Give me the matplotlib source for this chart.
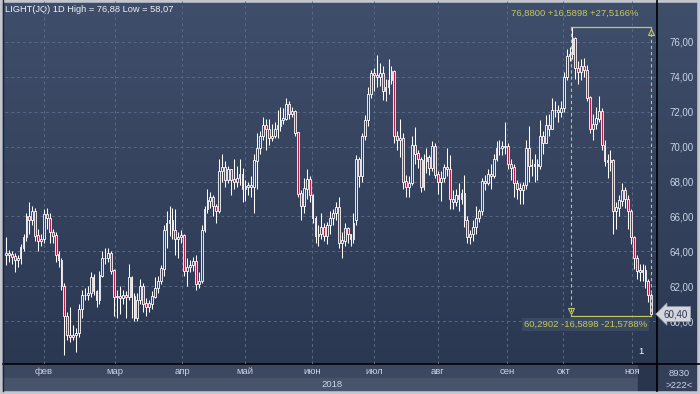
import matplotlib.pyplot as plt
import numpy as np
from matplotlib.colors import LinearSegmentedColormap
from matplotlib.patches import Rectangle

# %% ==========================================================================
# Data (LIGHT(JQ) daily candles 2018)
# =============================================================================
opens = [
    63.8, 63.9, 63.8, 63.7, 63.5, 63.6, 64.2, 64.8, 66.0, 65.8,
    66.3, 64.9, 64.6, 64.7, 66.1, 65.9, 65.1, 64.9, 63.8, 63.5,
    62.0, 60.3, 59.2, 59.1, 59.2, 59.3, 60.7, 61.5, 61.5, 61.6,
    62.5, 61.7, 61.2, 62.6, 63.6, 63.6, 63.9, 62.9, 61.4, 61.4,
    61.3, 61.5, 61.4, 62.5, 61.4, 60.2, 61.2, 62.0, 61.0, 60.8,
    61.0, 61.4, 61.9, 62.3, 63.0, 65.2, 65.6, 65.8, 65.2, 64.7,
    64.8, 64.9, 62.9, 63.1, 63.2, 63.4, 62.1, 62.3, 65.2, 66.4,
    66.9, 67.1, 66.6, 66.3, 68.6, 68.8, 68.1, 68.7, 68.1, 68.0,
    68.2, 68.4, 67.6, 67.7, 67.8, 67.7, 69.2, 69.9, 70.6, 71.2,
    71.0, 70.5, 70.6, 71.0, 71.2, 71.5, 71.6, 72.4, 71.9, 72.0,
    70.8, 67.3, 66.6, 67.6, 68.1, 67.2, 65.9, 64.9, 65.0, 65.4,
    64.9, 65.5, 65.9, 66.2, 66.5, 64.5, 64.6, 65.3, 65.0, 64.7,
    65.8, 69.3, 68.3, 70.6, 71.5, 73.0, 74.2, 74.1, 74.0, 74.2,
    73.2, 73.4, 73.8, 74.3, 70.6, 70.4, 70.5, 68.0, 67.7, 67.9,
    70.1, 69.6, 69.3, 67.7, 69.2, 69.4, 68.8, 70.0, 68.4, 68.0,
    68.2, 68.8, 68.7, 67.0, 66.8, 67.2, 67.0, 67.3, 65.8, 64.8,
    65.0, 65.4, 65.9, 66.3, 68.0, 67.9, 68.4, 68.3, 69.3, 69.9,
    69.9, 70.0, 70.0, 69.0, 68.8, 67.9, 67.6, 67.5, 67.8, 69.9,
    68.9, 68.9, 69.0, 68.9, 70.6, 70.2, 71.2, 71.0, 72.1, 72.1,
    72.0, 72.2, 74.0, 75.2, 75.3, 76.2, 74.5, 74.3, 74.6, 74.4,
    72.8, 71.0, 71.3, 71.6, 72.0, 70.1, 69.2, 69.1, 69.2, 66.3,
    66.5, 66.9, 67.5, 67.0, 66.3, 64.8, 63.6, 62.9, 62.8, 62.9,
    62.3, 61.5,
]
highs = [
    64.8, 64.1, 64.0, 63.9, 63.8, 64.4, 65.0, 66.2, 66.8, 66.6,
    66.5, 65.3, 65.0, 66.4, 66.5, 66.2, 65.3, 65.1, 64.0, 63.6,
    62.2, 60.5, 60.8, 59.8, 59.6, 61.0, 61.8, 61.9, 62.0, 62.8,
    62.7, 61.8, 62.9, 64.0, 64.2, 64.2, 64.0, 63.0, 61.8, 62.0,
    61.8, 61.7, 63.3, 62.6, 61.6, 61.6, 62.4, 62.2, 61.3, 61.2,
    61.7, 62.5, 62.6, 63.2, 65.5, 66.3, 66.6, 66.5, 66.4, 65.1,
    65.2, 65.0, 63.6, 63.5, 63.7, 63.8, 62.8, 65.5, 66.6, 67.6,
    67.4, 67.2, 66.7, 69.3, 69.6, 69.2, 68.9, 68.4, 69.3, 68.9,
    69.3, 68.8, 68.1, 68.0, 68.3, 69.6, 70.8, 70.9, 71.7, 71.6,
    71.6, 71.3, 71.4, 72.1, 72.3, 72.2, 72.8, 72.6, 72.3, 72.1,
    70.8, 67.5, 68.2, 68.7, 68.3, 67.3, 66.0, 65.5, 66.2, 65.6,
    65.7, 66.3, 66.4, 66.8, 67.1, 65.1, 65.6, 65.4, 65.0, 66.2,
    69.5, 69.4, 70.8, 71.8, 73.4, 74.4, 74.5, 75.25, 74.8, 74.6,
    73.9, 75.0, 74.6, 74.4, 70.9, 71.6, 70.8, 68.4, 68.3, 70.6,
    71.1, 69.8, 69.4, 69.6, 69.9, 69.5, 70.3, 70.2, 68.6, 68.6,
    69.0, 69.9, 69.5, 67.5, 67.6, 67.9, 67.6, 68.4, 66.0, 65.2,
    65.8, 66.6, 66.4, 68.2, 68.4, 68.7, 69.0, 69.6, 70.3, 70.4,
    70.3, 71.4, 70.2, 69.3, 69.0, 68.1, 67.9, 68.0, 70.4, 71.2,
    69.3, 69.6, 69.3, 71.5, 70.9, 71.8, 71.9, 72.8, 72.6, 72.4,
    72.6, 74.3, 75.6, 75.7, 76.88, 76.3, 74.9, 75.0, 75.1, 74.7,
    72.9, 71.9, 72.3, 72.9, 72.2, 70.4, 69.6, 69.8, 69.3, 66.8,
    67.2, 67.9, 67.7, 67.2, 66.4, 64.9, 63.8, 63.3, 63.3, 63.2,
    62.4, 61.6,
]
lows = [
    63.2, 63.4, 63.3, 62.8, 63.1, 63.3, 64.0, 64.6, 65.0, 65.5,
    64.6, 64.0, 64.3, 64.5, 65.3, 64.5, 64.5, 63.4, 63.1, 61.8,
    58.07, 58.9, 58.8, 58.9, 58.2, 59.1, 60.2, 61.2, 61.2, 61.4,
    61.5, 60.8, 61.0, 62.5, 63.3, 63.4, 62.7, 60.3, 60.2, 60.4,
    61.0, 60.2, 61.2, 60.2, 60.0, 60.0, 61.0, 60.5, 60.3, 60.5,
    60.7, 61.3, 61.6, 62.1, 62.6, 64.2, 64.9, 64.7, 63.8, 63.6,
    64.5, 62.6, 62.0, 62.8, 62.9, 61.8, 61.9, 62.2, 65.1, 66.2,
    66.5, 66.0, 65.6, 66.2, 68.0, 67.7, 67.9, 67.2, 67.6, 67.7,
    67.8, 66.8, 66.9, 67.2, 67.1, 66.2, 67.6, 69.6, 70.4, 69.8,
    70.1, 70.3, 70.5, 70.5, 70.9, 71.3, 71.5, 71.6, 71.7, 70.6,
    67.1, 65.8, 66.2, 67.0, 66.8, 65.6, 64.5, 64.3, 64.7, 64.6,
    64.4, 65.0, 65.5, 65.8, 64.2, 63.6, 64.3, 64.5, 64.3, 64.5,
    65.5, 67.7, 68.0, 70.4, 71.2, 72.8, 73.2, 73.4, 73.5, 72.7,
    72.6, 73.0, 73.6, 70.2, 69.8, 69.4, 67.6, 67.1, 67.1, 67.8,
    69.0, 68.8, 67.4, 67.5, 68.5, 68.4, 68.6, 68.2, 67.3, 66.9,
    68.0, 68.3, 66.4, 66.4, 66.6, 66.3, 66.7, 65.4, 64.5, 64.4,
    64.6, 65.0, 65.7, 66.1, 67.5, 67.8, 67.6, 68.2, 69.2, 69.5,
    69.5, 69.6, 68.7, 68.1, 67.1, 67.0, 66.7, 66.7, 67.6, 68.0,
    68.3, 68.0, 68.1, 68.7, 69.6, 70.3, 70.6, 71.6, 71.7, 71.4,
    71.7, 72.0, 73.8, 74.9, 75.0, 73.9, 73.6, 73.8, 74.0, 72.6,
    70.8, 70.4, 71.0, 71.4, 69.8, 68.9, 68.2, 68.6, 65.0, 65.3,
    66.0, 66.6, 66.5, 65.3, 64.4, 63.0, 62.4, 62.3, 62.3, 61.9,
    61.1, 60.29,
]
closes = [
    63.9, 63.8, 63.7, 63.5, 63.6, 64.2, 64.8, 66.0, 65.8, 66.3,
    64.9, 64.6, 64.7, 66.1, 65.9, 65.1, 64.9, 63.8, 63.5, 62.0,
    60.3, 59.2, 59.1, 59.2, 59.3, 60.7, 61.5, 61.5, 61.6, 62.5,
    61.7, 61.2, 62.6, 63.6, 63.6, 63.9, 62.9, 61.4, 61.4, 61.3,
    61.5, 61.4, 62.5, 61.4, 60.2, 61.2, 62.0, 61.0, 60.8, 61.0,
    61.4, 61.9, 62.3, 63.0, 65.2, 65.6, 65.8, 65.2, 64.7, 64.8,
    64.9, 62.9, 63.1, 63.2, 63.4, 62.1, 62.3, 65.2, 66.4, 66.9,
    67.1, 66.6, 66.3, 68.6, 68.8, 68.1, 68.7, 68.1, 68.0, 68.2,
    68.4, 67.6, 67.7, 67.8, 67.7, 69.2, 69.9, 70.6, 71.2, 71.0,
    70.5, 70.6, 71.0, 71.2, 71.5, 71.6, 72.4, 71.9, 72.0, 70.8,
    67.3, 66.6, 67.6, 68.1, 67.2, 65.9, 64.9, 65.0, 65.4, 64.9,
    65.5, 65.9, 66.2, 66.5, 64.5, 64.6, 65.3, 65.0, 64.7, 65.6,
    69.3, 68.3, 70.6, 71.5, 73.0, 74.2, 74.1, 74.0, 74.2, 73.2,
    73.4, 73.8, 74.3, 70.6, 70.4, 70.5, 68.0, 67.7, 67.9, 70.1,
    69.6, 69.3, 67.7, 69.2, 69.4, 68.8, 70.0, 68.4, 68.0, 68.2,
    68.8, 68.7, 67.0, 66.8, 67.2, 67.0, 67.3, 65.8, 64.8, 65.0,
    65.4, 65.9, 66.3, 68.0, 67.9, 68.4, 68.3, 69.3, 69.9, 69.9,
    70.0, 70.0, 69.0, 68.8, 67.9, 67.6, 67.5, 67.8, 69.9, 68.9,
    68.9, 69.0, 68.9, 70.6, 70.2, 71.2, 71.0, 72.1, 72.1, 72.0,
    72.2, 74.0, 75.2, 75.3, 76.2, 74.5, 74.3, 74.6, 74.4, 72.8,
    71.0, 71.3, 71.6, 72.0, 70.1, 69.2, 69.1, 69.2, 66.3, 66.5,
    66.9, 67.5, 67.0, 66.3, 64.8, 63.6, 62.9, 62.8, 62.9, 62.3,
    61.5, 60.4,
]

month_labels = ["фев", "мар", "апр", "май", "июн", "июл", "авг", "сен", "окт", "ноя"]
month_start = [13, 37.3, 60.3, 81.8, 104.8, 126, 147.9, 171.6, 190.8, 214.4]
price_ticks = [60, 62, 64, 66, 68, 70, 72, 74, 76]

title = "LIGHT(JQ) 1D High = 76,88 Low = 58,07"
last_price = 60.40
peak_idx, peak_val = 194, 76.88
end_idx, end_low = 221, 60.2902

# %% ==========================================================================
# Figure and background (pixel coordinates)
# =============================================================================
W, H = 700, 394
fig = plt.figure(figsize=(7, 3.94), dpi=100, facecolor="#c3c7cd")
bg = fig.add_axes([0, 0, 1, 1])
bg.set_xlim(0, W)
bg.set_ylim(H, 0)
bg.axis("off")

cmap = LinearSegmentedColormap.from_list("bg", ["#3f4e6b", "#2b3852"])
bg.imshow(np.linspace(0, 1, 256)[:, None], extent=(0, W, 364, 0),
          cmap=cmap, aspect="auto", origin="upper")
bg.add_patch(Rectangle((0, 364), W, 14, color="#3c4862"))       # month strip
bg.add_patch(Rectangle((0, 378), 657, 13, color="#48546c"))     # year strip
bg.add_patch(Rectangle((657, 364), W - 657, 27, color="#34405a"))  # right corner
bg.add_patch(Rectangle((638, 362), 19, 29, color="#29354d"))    # scroll thumb
bg.plot([657, 657], [0, 391], color="black", lw=1.2)
bg.plot([3, W], [364, 364], color="black", lw=1.2)
bg.add_patch(Rectangle((0, 0), W, H, fill=False, ec="#c3c7cd", lw=4))
bg.plot([3, 3], [0, 391], color="#1c2436", lw=1)

txt_col = "#c9d3e6"
bg.text(332, 384.5, "2018", color=txt_col, fontsize=6.8, ha="center",
        va="center", family="Liberation Sans")
bg.text(679, 373, "8930", color=txt_col, fontsize=6.8, ha="center",
        va="center", family="Liberation Sans")
bg.text(679, 385, ">222<", color=txt_col, fontsize=6.8, ha="center",
        va="center", family="Liberation Sans")
bg.text(641, 352, "1", color="white", fontsize=6.8, ha="center",
        va="center", family="Liberation Sans")
bg.text(5, 9, title, color="#eef1f6", fontsize=6.7, ha="left",
        va="center", family="Liberation Sans")

# %% ==========================================================================
# Price axes
# =============================================================================
ax = fig.add_axes([5 / W, (H - 364) / H, 652 / W, 363 / H])
ax.patch.set_alpha(0)
ax.set_xlim(-0.34, 222.95)
ax.set_ylim(57.54, 78.35)
for s in ax.spines.values():
    s.set_visible(False)

ax.set_xticks(month_start)
ax.set_xticklabels(month_labels)
ax.set_yticks(price_ticks)
ax.set_yticklabels([f"{p:.2f}".replace(".", ",") for p in price_ticks])
ax.yaxis.tick_right()
ax.tick_params(axis="x", length=0, pad=2.5, labelsize=6.8, labelcolor=txt_col)
ax.tick_params(axis="y", length=0, pad=9, labelsize=7, labelcolor=txt_col)
for lab in ax.get_xticklabels() + ax.get_yticklabels():
    lab.set_family("Liberation Sans")
ax.grid(True, color="#5a6884", linestyle=(0, (3, 3)), lw=0.7)
ax.set_axisbelow(True)

# Candles
o = np.array(opens)
c = np.array(closes)
x = np.arange(len(c))
down = c < o
ax.vlines(x, lows, highs, color="white", lw=0.75, zorder=2)
ax.bar(x, np.abs(c - o) + 0.02, bottom=np.minimum(o, c), width=0.62,
       color=np.where(down, "#b81e44", "#33415c"), edgecolor="white",
       lw=0.6, zorder=3)

# %% ==========================================================================
# Range annotation
# =============================================================================
ann = "#c4c85c"
ax.plot([peak_idx - 0.5, end_idx], [peak_val, peak_val], color=ann, lw=0.9, zorder=4)
ax.plot([peak_idx - 0.5, end_idx], [end_low, end_low], color=ann, lw=0.9, zorder=4)
ax.plot([peak_idx - 0.5] * 2, [peak_val, end_low], color=ann, lw=0.8,
        ls=(0, (3, 2.5)), zorder=4)
ax.plot([end_idx] * 2, [peak_val, end_low], color=ann, lw=0.8,
        ls=(0, (3, 2.5)), zorder=4)
ax.plot(peak_idx - 0.5, end_low + 0.3, marker="v", ms=4, mfc="none",
        mec=ann, mew=0.8, zorder=4)
ax.plot(end_idx, peak_val - 0.3, marker="^", ms=4, mfc="none",
        mec=ann, mew=0.8, zorder=4)
diff = peak_val - end_low
ax.annotate(f"76,8800 +{diff:.4f} +27,5166%".replace(".", ","),
            xy=(end_idx, peak_val), xytext=(-9, 6), textcoords="offset points",
            ha="right", va="bottom", color=ann, fontsize=6.8,
            family="Liberation Sans")
ax.annotate(f"60,2902 -{diff:.4f} -21,5788%".replace(".", ","),
            xy=(end_idx, end_low), xytext=(-3, -6), textcoords="offset points",
            ha="right", va="center", color=ann, fontsize=6.8,
            family="Liberation Sans",
            bbox=dict(boxstyle="square,pad=0.2", fc="#3b4960", ec="none"))

# Last price marker
ax.annotate("60,40", xy=(1, last_price), xycoords=("axes fraction", "data"),
            xytext=(5, 0), textcoords="offset points", ha="left", va="center",
            color="#2a3346", fontsize=7, family="Liberation Sans",
            bbox=dict(boxstyle="larrow,pad=0.25", fc="#d2d6de", ec="#9aa2b0", lw=0.5),
            annotation_clip=False, zorder=6)

fig.savefig("out.png", dpi=100, facecolor=fig.get_facecolor())
